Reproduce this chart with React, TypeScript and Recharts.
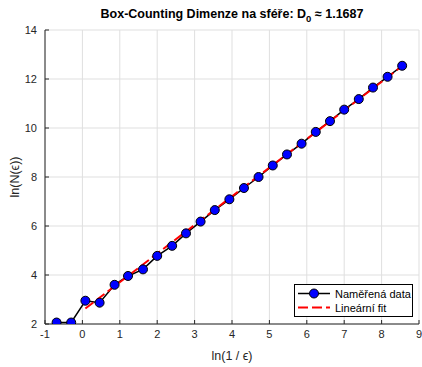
import { LineChart, Line, XAxis, YAxis, CartesianGrid, Legend } from "recharts";

// ln(1/eps) and ln(N(eps))
const logInvEps = [
  -0.69, -0.3, 0.08, 0.46, 0.86, 1.22, 1.62, 2.0, 2.4, 2.77, 3.16, 3.54, 3.93,
  4.32, 4.71, 5.09, 5.47, 5.86, 6.24, 6.62, 7.0, 7.39, 7.77, 8.16, 8.55,
];
const logCount = [
  2.06, 2.06, 2.95, 2.87, 3.6, 3.96, 4.23, 4.78, 5.19, 5.7, 6.18, 6.65, 7.09,
  7.55, 8.0, 8.47, 8.92, 9.36, 9.84, 10.28, 10.75, 11.18, 11.65, 12.09, 12.54,
];
// end points of the linear fit
const fitX = [0.08, 8.55];
const fitY = [2.63, 12.53];

const xTicks = [-1, 0, 1, 2, 3, 4, 5, 6, 7, 8, 9];
const yTicks = [2, 4, 6, 8, 10, 12, 14];

const measured = logInvEps.map((x, i) => ({ x, y: logCount[i] }));
const fit = fitX.map((x, i) => ({ x, y: fitY[i] }));

const FONT = '"Liberation Sans", Arial, Helvetica, sans-serif';
const AXIS = "#262626";
const tickStyle = { fill: AXIS, fontSize: 11, fontFamily: FONT };

function LegendBox() {
  return (
    <svg width={119} height={33} style={{ display: "block" }}>
      <rect x={0.5} y={0.5} width={118} height={32} fill="#fff" stroke="#000" />
      <line x1={4} x2={36} y1={9.5} y2={9.5} stroke="#000" strokeWidth={1.5} />
      <circle cx={20} cy={9.5} r={4.5} fill="#0000ff" stroke="#000" strokeWidth={1} />
      <text x={41} y={13.5} fontSize={11} fontFamily={FONT} fill="#000">
        Naměřená data
      </text>
      <line
        x1={4}
        x2={36}
        y1={23.5}
        y2={23.5}
        stroke="#ff0000"
        strokeWidth={2}
        strokeDasharray="10 4"
      />
      <text x={41} y={27.5} fontSize={11} fontFamily={FONT} fill="#000">
        Lineární fit
      </text>
    </svg>
  );
}

export default function App() {
  return (
    <div style={{ position: "absolute", left: 0, top: 0, background: "#fff" }}>
      <LineChart
        width={422}
        height={367}
        margin={{ top: 30, right: 3, bottom: 0, left: 0 }}
        style={{ fontFamily: FONT }}
      >
        <CartesianGrid stroke="#dfdfdf" strokeWidth={1} />
        <XAxis
          dataKey="x"
          type="number"
          domain={[-1, 9]}
          ticks={xTicks}
          allowDataOverflow
          height={43}
          stroke={AXIS}
          tick={tickStyle}
          tickSize={-4}
          tickMargin={10}
        />
        <XAxis
          xAxisId="top"
          orientation="top"
          type="number"
          domain={[-1, 9]}
          ticks={xTicks}
          allowDataOverflow
          height={0}
          stroke={AXIS}
          tick={false}
          tickSize={-4}
        />
        <YAxis
          type="number"
          domain={[2, 14]}
          ticks={yTicks}
          allowDataOverflow
          width={45}
          stroke={AXIS}
          tick={tickStyle}
          tickSize={-4}
          tickMargin={12}
        />
        <YAxis
          yAxisId="right"
          orientation="right"
          type="number"
          domain={[2, 14]}
          ticks={yTicks}
          allowDataOverflow
          width={0}
          stroke={AXIS}
          tick={false}
          tickSize={-4}
        />
        <Line
          data={measured}
          dataKey="y"
          stroke="#000"
          strokeWidth={1.5}
          dot={false}
          isAnimationActive={false}
          legendType="none"
        />
        <Line
          data={fit}
          dataKey="y"
          stroke="#ff0000"
          strokeWidth={2}
          strokeDasharray="10 4"
          dot={false}
          isAnimationActive={false}
          legendType="none"
        />
        <Line
          data={measured}
          dataKey="y"
          stroke="none"
          dot={{ r: 4.5, fill: "#0000ff", stroke: "#000", strokeWidth: 1 }}
          isAnimationActive={false}
          legendType="none"
        />
        <Legend
          layout="horizontal"
          verticalAlign="middle"
          align="center"
          content={() => <LegendBox />}
          wrapperStyle={{ left: 294, top: 284, width: 119, height: 33 }}
        />
        <text
          x={232}
          y={18}
          textAnchor="middle"
          fontSize={12.5}
          fontWeight="bold"
          fontFamily={FONT}
          fill="#000"
        >
          Box-Counting Dimenze na sféře: D
          <tspan fontSize={9.5} dy={4}>0</tspan>
          <tspan dy={-4}> ≈ 1.1687</tspan>
        </text>
        <text x={232} y={360} textAnchor="middle" fontSize={12.5} fontFamily={FONT} fill={AXIS}>
          ln(1 / ϵ)
        </text>
        <text
          x={19}
          y={177}
          textAnchor="middle"
          fontSize={12.5}
          fontFamily={FONT}
          fill={AXIS}
          transform="rotate(-90 19 177)"
        >
          ln(N(ϵ))
        </text>
      </LineChart>
    </div>
  );
}
